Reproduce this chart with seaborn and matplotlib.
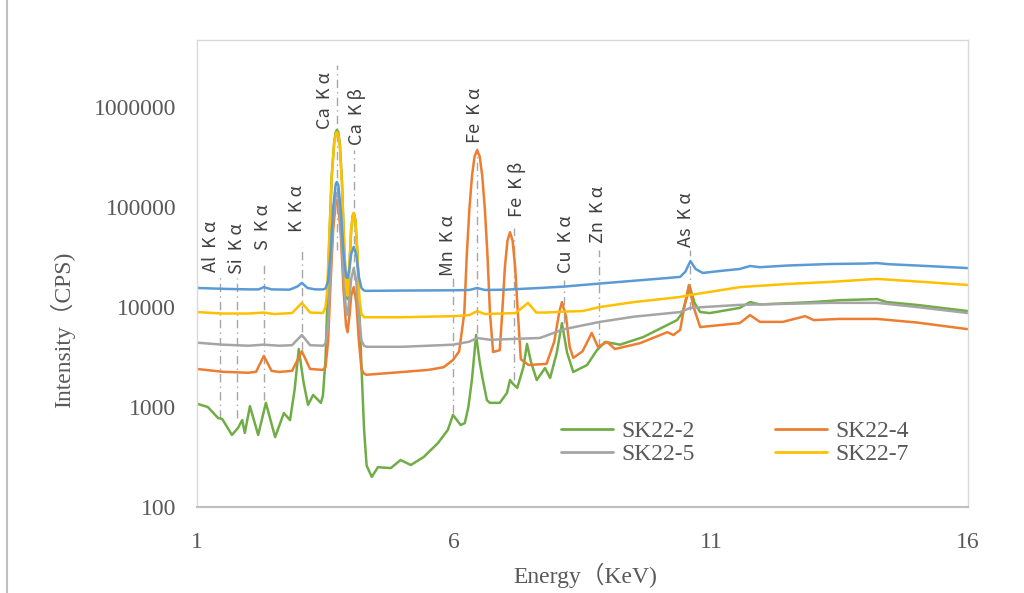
import matplotlib
matplotlib.use("Agg")
import matplotlib.pyplot as plt
from matplotlib.lines import Line2D
import numpy as np
import pandas as pd
import seaborn as sns

# ---------------- data ----------------
green_E = [1.02,1.21,1.41,1.49,1.68,1.80,1.88,1.93,2.03,2.19,2.34,2.52,2.69,2.81,2.90,2.98,3.07,3.16,3.26,3.41,
           3.45,3.50,3.53,3.57,3.62,3.67,3.70,3.72,3.75,3.78,3.82,3.86,3.90,3.93,3.97,4.00,4.03,4.05,4.08,4.12,
           4.16,4.20,4.25,4.30,
           4.40,4.52,4.77,4.96,5.16,5.41,5.69,5.88,5.98,6.13,6.21,6.28,6.35,6.43,6.50,6.55,6.64,6.70,6.89,7.03,
           7.09,7.15,7.23,7.35,7.42,7.50,7.61,7.77,7.87,8.00,8.10,8.20,8.32,8.59,8.78,8.94,9.23,9.68,10.34,10.44,
           10.52,10.59,10.68,10.79,10.98,11.56,11.76,11.95,12.98,13.51,14.23,14.42,15.00,16.00]
green_cps = [1070,1000,776,760,525,620,741,550,1020,525,1100,500,870,740,1500,3800,1800,1050,1320,1100,
             1300,3000,9000,40000,200000,450000,560000,589000,560000,420000,180000,45000,15000,12000,28000,60000,82000,87000,75000,35000,
             9000,2500,600,260,
             200,250,245,295,263,316,437,590,832,660,690,1000,1900,5250,2800,2000,1170,1100,1100,1380,
             1860,1700,1550,2500,4270,2800,1860,2450,1950,3500,6900,3500,2240,2630,3700,4470,4200,5000,7400,8700,
             12000,15800,11000,8900,8700,9800,11200,10600,11200,11700,12000,11200,10500,9100]

orange_E = [1.0,1.5,2.0,2.15,2.3,2.45,2.6,2.85,3.04,3.2,3.45,3.5,3.55,3.6,3.65,3.7,3.72,3.75,3.8,3.85,
            3.9,3.93,3.97,4.0,4.05,4.1,4.15,4.2,4.25,4.3,5.0,5.5,5.8,5.98,6.1,6.2,6.25,6.3,6.35,6.4,
            6.45,6.5,6.55,6.6,6.65,6.7,6.76,6.89,6.94,6.99,7.04,7.09,7.14,7.19,7.24,7.3,7.45,7.8,7.95,8.05,
            8.1,8.18,8.25,8.32,8.5,8.68,8.8,8.98,9.13,9.62,10.15,10.27,10.4,10.48,10.57,10.66,10.79,11.56,11.76,11.95,
            12.4,12.83,13.0,13.5,14.23,15.0,16.0]
orange_cps = [2400,2250,2200,2250,3240,2300,2240,2300,3600,2400,2350,2500,4500,18000,60000,110000,117000,105000,50000,15000,
              6500,5600,8500,13000,15800,11000,4500,2400,2150,2100,2240,2350,2500,2950,3600,8700,34000,96000,204000,320000,
              370000,320000,204000,96000,34000,8700,3550,3700,9100,25000,46000,56000,46000,25000,9100,3000,2630,2700,4500,9000,
              11200,8000,4000,3100,3600,5500,4000,4470,3800,4350,5600,5250,5900,10000,16600,10000,6300,6900,8300,7100,
              7100,8100,7400,7600,7600,7000,6000]

gray_E = [1.0,1.5,2.0,2.3,2.6,2.85,3.04,3.2,3.45,3.5,3.55,3.6,3.65,3.7,3.72,3.75,3.8,3.85,3.9,3.93,
          3.97,4.0,4.05,4.1,4.15,4.2,4.25,4.3,5.0,5.98,6.3,6.45,6.7,7.67,8.14,8.84,9.5,10.4,10.6,11.56,
          13.3,14.23,15.0,16.0]
gray_cps = [4400,4200,4100,4200,4100,4150,5250,4150,4100,4300,6500,25000,75000,130000,138000,125000,60000,20000,9000,8300,
            13000,19000,24500,18000,8000,4600,4100,4000,4000,4200,4500,4900,4700,4900,6000,7100,8000,8900,9800,10500,
            11000,11000,10000,8700]

yellow_E = [1.0,1.5,2.0,2.3,2.5,2.85,3.04,3.2,3.45,3.5,3.53,3.57,3.62,3.67,3.70,3.72,3.75,3.78,3.82,3.86,
            3.90,3.93,3.97,4.00,4.03,4.05,4.08,4.12,4.16,4.20,4.25,4.3,5.0,6.0,6.3,6.45,6.6,7.2,7.44,7.6,
            7.8,8.15,8.5,8.84,9.5,10.4,10.6,11.56,12.5,13.3,14.23,15.0,16.0]
yellow_cps = [8900,8600,8600,8800,8500,8700,11000,8800,8700,10000,14000,45000,200000,440000,535000,562000,530000,400000,170000,45000,
              16000,13000,30000,60000,82000,87000,75000,36000,12000,8500,7900,7900,7900,8100,8300,9100,8500,8700,11000,8800,
              8800,9000,9100,10000,11200,12600,13200,15800,17000,17800,19100,18000,16600]

blue_E = [1.0,1.5,2.0,2.2,2.3,2.45,2.8,2.95,3.04,3.15,3.3,3.45,3.5,3.55,3.6,3.65,3.7,3.72,3.75,3.8,
          3.85,3.9,3.93,3.97,4.0,4.05,4.1,4.15,4.2,4.25,4.3,5.0,6.0,6.3,6.45,6.6,7.0,7.67,8.14,8.5,
          8.98,9.5,10.0,10.4,10.5,10.6,10.7,10.84,11.2,11.56,11.76,11.95,12.5,13.3,14.0,14.23,14.45,15.0,16.0]
blue_cps = [15500,15200,15000,15000,15800,15000,14900,16000,17400,15500,15000,15000,15300,18000,35000,100000,170000,178000,165000,90000,
            35000,20000,19500,25000,34000,40000,33000,20000,15500,14600,14500,14600,14700,14800,15500,14800,14900,15500,16000,16600,
            17400,18300,19200,20000,22500,28800,24000,21900,23000,24000,25700,25000,26000,26900,27200,27500,26800,26000,24500]

series_names = ["SK22-2", "SK22-4", "SK22-5", "SK22-7", "unlabeled"]
series_colors = ["#70AD47", "#ED7D31", "#A5A5A5", "#FFC000", "#5B9BD5"]
legend_names = ["SK22-2", "SK22-4", "SK22-5", "SK22-7"]

peak_labels = ["Al  K α", "Si  K α", "S  K α", "K  K α", "Ca  K α", "Ca  K β", "Mn  K α", "Fe  K α", "Fe  K β",
               "Cu  K α", "Zn  K α", "As  K α"]
peak_E = [1.45, 1.78, 2.30, 3.04, 3.72, 4.05, 5.98, 6.45, 7.17, 8.14, 8.82, 10.59]
peak_top = [19950, 19500, 28800, 39800, 2630000, 371500, 19950, 389000, 61700, 18600, 37150, 37150]
peak_bottom = [776, 776, 1175, 3715, 37150, 18600, 871, 5500, 1862, 6920, 3980, 9330]
label_E = [1.27, 1.78, 2.28, 2.95, 3.49, 4.11, 5.88, 6.41, 7.23, 8.18, 8.80, 10.51]
label_y = [22400, 21400, 37150, 56200, 603000, 417000, 20400, 437000, 79400, 21900, 43650, 39800]

x_ticks = [1, 6, 11, 16]
y_ticks = [100, 1000, 10000, 100000, 1000000]
y_ticklabels = ["100", "1000", "10000", "100000", "1000000"]

# ---------------- build frame ----------------
frames = []
for name, E, c in zip(series_names,
                      [green_E, orange_E, gray_E, yellow_E, blue_E],
                      [green_cps, orange_cps, gray_cps, yellow_cps, blue_cps]):
    frames.append(pd.DataFrame({"Energy": E, "CPS": c, "Sample": name}))
df = pd.concat(frames, ignore_index=True)

sns.set_theme(style="white")
plt.rcParams["font.family"] = ["Liberation Serif", "Noto Sans CJK JP", "DejaVu Sans"]

fig = plt.figure(figsize=(10.24, 5.93), dpi=100)
ax = fig.add_axes([197 / 1024, 86 / 593, 771 / 1024, 467 / 593])

sns.lineplot(data=df, x="Energy", y="CPS", hue="Sample", hue_order=series_names,
             palette=dict(zip(series_names, series_colors)), estimator=None, sort=False,
             linewidth=1.8, legend=False, ax=ax)

ax.set_yscale("log")
ax.set_xlim(1, 16)
ax.set_ylim(100, 10 ** 6.67)
ax.set_xticks(x_ticks, labels=[str(t) for t in x_ticks])
ax.set_yticks(y_ticks, labels=y_ticklabels)
ax.minorticks_off()
ax.tick_params(axis="both", length=0, labelsize=17, labelcolor="#595959")
ax.tick_params(axis="y", pad=15)
ax.tick_params(axis="x", pad=18)
ax.set_xlabel("")
ax.set_ylabel("")
ax.grid(False)

for side in ["top", "left", "right"]:
    ax.spines[side].set_color("#d9d9d9")
    ax.spines[side].set_linewidth(1.0)
ax.spines["bottom"].set_color("#bfbfbf")
ax.spines["bottom"].set_linewidth(1.5)

# peak marker lines and labels
for lab, e, t, b, lx, ly in zip(peak_labels, peak_E, peak_top, peak_bottom, label_E, label_y):
    ax.plot([e, e], [b, t], color="#a6a6a6", lw=1.0, linestyle=(0, (6, 3, 1, 3)), zorder=1)
    ax.text(lx, ly, lab, rotation=90, ha="center", va="bottom", fontsize=13,
            color="#404040", family=["Noto Sans CJK JP", "DejaVu Sans"], zorder=6)

# legend
handles = [Line2D([0], [0], color=c, lw=2) for c in series_colors[:4]]
order = [0, 2, 1, 3]
fig.legend([handles[i] for i in order], [legend_names[i] for i in order], ncol=2,
           loc="center", bbox_to_anchor=(735 / 1024, 1 - 443 / 593), bbox_transform=fig.transFigure,
           frameon=False, fontsize=17, handlelength=2.2, handletextpad=0.35, columnspacing=3.4,
           labelspacing=0.05, labelcolor="#595959")

# axis titles
fig.text(585 / 1024, 1 - 575 / 593, "Energy（KeV)", ha="center", va="center", fontsize=17, color="#595959")
fig.text(63 / 1024, 1 - 330 / 593, "Intensity（CPS)", ha="center", va="center", rotation=90,
         fontsize=17, color="#595959")

# outer frame line on left
fig.add_artist(Line2D([7 / 1024, 7 / 1024], [0, 1], color="#bfbfbf", lw=1.5, transform=fig.transFigure))

fig.savefig("out.png", dpi=100)
